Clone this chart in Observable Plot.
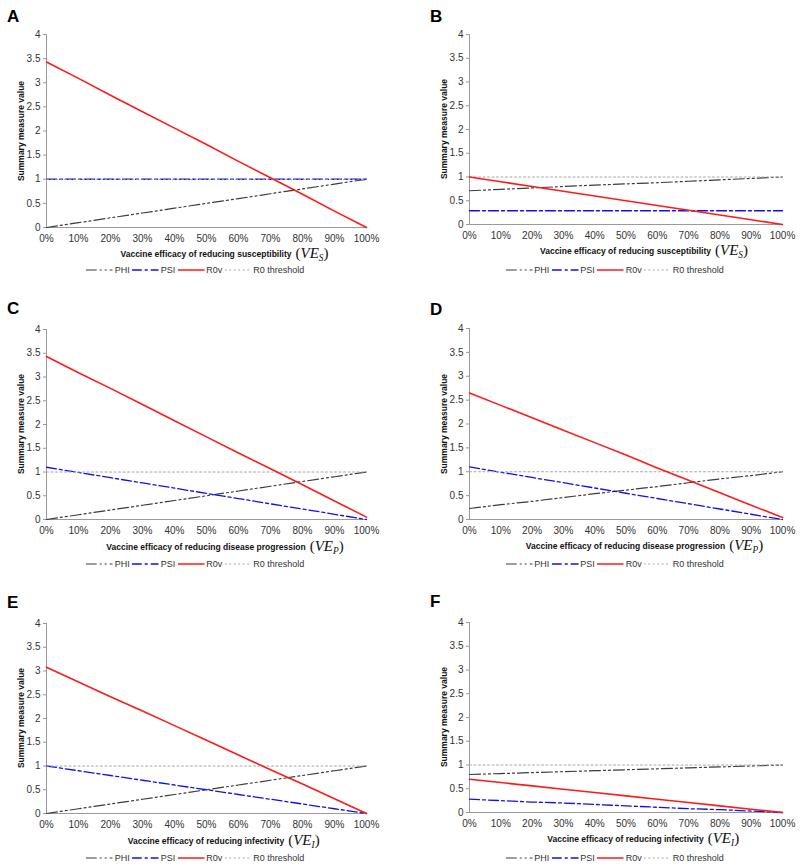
<!DOCTYPE html>
<html><head><meta charset="utf-8">
<script src="https://cdn.jsdelivr.net/npm/d3@7"></script>
<script src="https://cdn.jsdelivr.net/npm/@observablehq/plot@0.6"></script>
<style>
body{margin:0;background:#fff;font-family:"Liberation Sans",Arial,sans-serif;}
#root{position:relative;width:800px;height:868px;overflow:hidden;}
.panel{position:absolute;width:400px;height:290px;}
.panel svg{position:absolute;left:0;top:0;}
.letter{position:absolute;font-weight:bold;font-size:17px;line-height:1;}
.ylab{position:absolute;font-weight:bold;font-size:8.5px;color:#111;transform:translate(-50%,-50%) rotate(-90deg);white-space:nowrap;}
.xlab{position:absolute;font-weight:bold;font-size:8.5px;color:#111;transform:translate(-50%,-50%);white-space:nowrap;line-height:1;}
.math{position:absolute;left:100%;top:50%;transform:translateY(-45%);font-family:"Liberation Serif","DejaVu Serif",serif;font-style:italic;font-size:15px;line-height:1;font-weight:normal;padding-left:4px;white-space:nowrap;}
.math .up{font-style:normal;}
.math sub{font-size:0.62em;vertical-align:-0.25em;}
.legend{position:absolute;transform:translate(-50%,-50%);display:flex;align-items:center;font-size:9px;color:#333;white-space:nowrap;}
.legend .item{display:flex;align-items:center;margin-right:2px;}
.legend svg{position:static;margin-right:2px;}
</style></head><body><div id="root"></div><script>
// x values: vaccine efficacy (%)
const pct = [0,10,20,30,40,50,60,70,80,90,100];
const yTicks = [0,0.5,1,1.5,2,2.5,3,3.5,4];
const seriesNames = ["PHI","PSI","R0v","R0 threshold"];
const thresh = [1,1,1,1,1,1,1,1,1,1,1];

// Panel A (VE_S)
const phiA = [0.00,0.10,0.20,0.30,0.40,0.50,0.60,0.70,0.80,0.90,1.00];
const psiA = [1.00,1.00,1.00,1.00,1.00,1.00,1.00,1.00,1.00,1.00,1.00];
const r0vA = [3.43,3.09,2.74,2.40,2.06,1.72,1.37,1.03,0.69,0.34,0.00];
// Panel B (VE_S)
const phiB = [0.71,0.74,0.77,0.80,0.83,0.855,0.88,0.91,0.94,0.97,1.00];
const psiB = [0.29,0.29,0.29,0.29,0.29,0.29,0.29,0.29,0.29,0.29,0.29];
const r0vB = [1.00,0.90,0.80,0.70,0.60,0.50,0.40,0.30,0.20,0.10,0.00];
// Panel C (VE_P)
const phiC = [0.00,0.10,0.20,0.30,0.40,0.50,0.60,0.70,0.80,0.90,1.00];
const psiC = [1.10,0.99,0.88,0.77,0.66,0.55,0.44,0.33,0.22,0.11,0.00];
const r0vC = [3.43,3.09,2.76,2.42,2.08,1.74,1.40,1.07,0.73,0.39,0.05];
// Panel D (VE_P)
const phiD = [0.23,0.31,0.38,0.46,0.54,0.615,0.69,0.77,0.85,0.92,1.00];
const psiD = [1.10,0.99,0.88,0.77,0.66,0.55,0.44,0.33,0.22,0.11,0.00];
const r0vD = [2.65,2.39,2.13,1.87,1.61,1.35,1.08,0.82,0.56,0.30,0.04];
// Panel E (VE_I)
const phiE = [0.00,0.10,0.20,0.30,0.40,0.50,0.60,0.70,0.80,0.90,1.00];
const psiE = [1.00,0.90,0.80,0.70,0.60,0.50,0.40,0.30,0.20,0.10,0.00];
const r0vE = [3.08,2.77,2.46,2.16,1.85,1.54,1.23,0.92,0.62,0.31,0.00];
// Panel F (VE_I)
const phiF = [0.80,0.82,0.84,0.86,0.88,0.90,0.92,0.94,0.96,0.98,1.00];
const psiF = [0.28,0.25,0.22,0.20,0.17,0.14,0.11,0.08,0.06,0.03,0.00];
const r0vF = [0.70,0.63,0.56,0.49,0.42,0.35,0.28,0.21,0.14,0.07,0.00];

const xTexts = {
  S: "Vaccine efficacy of reducing susceptibility",
  P: "Vaccine efficacy of reducing disease progression",
  I: "Vaccine efficacy of reducing infectivity"
};

const styles = {
  "PHI": {stroke:"#3c3c3c", dash:"11,3,2,3,2,3", width:1.2},
  "PSI": {stroke:"#1010ee", dash:"10,3,3,3", width:1.3},
  "R0v": {stroke:"#ff1a1a", dash:null, width:1.6},
  "R0 threshold": {stroke:"#a8a8a8", dash:"2,2.5", width:1.1}
};

const panels = [
  {id:"A", col:0, row:0, phi:phiA, psi:psiA, r0v:r0vA, ve:"S", top:34, y0:227, letterTop:8, xlabY:254, legY:270},
  {id:"B", col:1, row:0, phi:phiB, psi:psiB, r0v:r0vB, ve:"S", top:34, y0:224, letterTop:8, xlabY:251, legY:270},
  {id:"C", col:0, row:1, phi:phiC, psi:psiC, r0v:r0vC, ve:"P", top:39, y0:229, letterTop:10, xlabY:257, legY:274},
  {id:"D", col:1, row:1, phi:phiD, psi:psiD, r0v:r0vD, ve:"P", top:38, y0:229, letterTop:11, xlabY:256, legY:274},
  {id:"E", col:0, row:2, phi:phiE, psi:psiE, r0v:r0vE, ve:"I", top:43, y0:233, letterTop:14, xlabY:261, legY:278},
  {id:"F", col:1, row:2, phi:phiF, psi:psiF, r0v:r0vF, ve:"I", top:42, y0:232, letterTop:13, xlabY:259, legY:278}
];

const root = document.getElementById("root");

function lineMark(rows, key, name) {
  const s = styles[name];
  const opts = {x:"x", y:key, stroke:s.stroke, strokeWidth:s.width};
  if (s.dash) opts.strokeDasharray = s.dash;
  return Plot.lineY(rows, opts);
}

panels.forEach(p => {
  const ml = p.col === 0 ? 46 : 69;
  const mr = p.col === 0 ? 34 : 18;
  const mb = 20;
  const H = p.y0 + mb;
  const rows = pct.map((x,i) => ({x, phi:p.phi[i], psi:p.psi[i], r0v:p.r0v[i], thr:thresh[i]}));
  const div = document.createElement("div");
  div.className = "panel";
  div.style.left = (p.col*400) + "px";
  div.style.top = (p.row*290) + "px";
  root.appendChild(div);

  const plot = Plot.plot({
    width: 400, height: H,
    marginLeft: ml, marginRight: mr, marginTop: p.top, marginBottom: mb,
    style: {fontFamily:"Liberation Sans, Arial, sans-serif", fontSize:"10px", color:"#333", background:"transparent", overflow:"visible"},
    x: {domain:[0,100]},
    y: {domain:[0,4]},
    marks: [
      Plot.axisY({ticks:yTicks, tickSize:3, tickPadding:3, label:null, stroke:"#999", tickFormat:d=>String(d)}),
      Plot.axisX({ticks:pct, tickSize:0, tickPadding:7, label:null, tickFormat:d=>d+"%"}),
      Plot.ruleX([0], {stroke:"#9a9a9a"}),
      Plot.ruleY([0], {stroke:"#9a9a9a"}),
      lineMark(rows, "phi", "PHI"),
      lineMark(rows, "psi", "PSI"),
      lineMark(rows, "thr", "R0 threshold"),
      lineMark(rows, "r0v", "R0v")
    ]
  });
  div.appendChild(plot);

  const cx = (ml + (400 - mr)) / 2;

  const letter = document.createElement("div");
  letter.className = "letter";
  letter.textContent = p.id;
  letter.style.left = (p.col === 0 ? 7 : 30) + "px";
  letter.style.top = p.letterTop + "px";
  div.appendChild(letter);

  const yl = document.createElement("div");
  yl.className = "ylab";
  yl.textContent = "Summary measure value";
  yl.style.left = (ml - 25) + "px";
  yl.style.top = ((p.top + p.y0)/2) + "px";
  div.appendChild(yl);

  const xl = document.createElement("div");
  xl.className = "xlab";
  xl.style.left = cx + "px";
  xl.style.top = p.xlabY + "px";
  xl.textContent = xTexts[p.ve];
  const m = document.createElement("span");
  m.className = "math";
  m.innerHTML = '<span class="up">(</span>VE<sub>' + p.ve + '</sub><span class="up">)</span>';
  xl.appendChild(m);
  div.appendChild(xl);

  const lg = document.createElement("div");
  lg.className = "legend";
  lg.style.left = (cx - 10) + "px";
  lg.style.top = p.legY + "px";
  seriesNames.forEach(n => {
    const s = styles[n];
    const it = document.createElement("span");
    it.className = "item";
    const svg = d3.create("svg").attr("width", 27).attr("height", 6);
    const ln = svg.append("line").attr("x1",0).attr("x2",27).attr("y1",3).attr("y2",3)
      .attr("stroke", s.stroke).attr("stroke-width", s.width);
    if (s.dash) ln.attr("stroke-dasharray", s.dash);
    it.appendChild(svg.node());
    const t = document.createElement("span");
    t.textContent = n;
    it.appendChild(t);
    lg.appendChild(it);
  });
  div.appendChild(lg);
});
</script></body></html>
